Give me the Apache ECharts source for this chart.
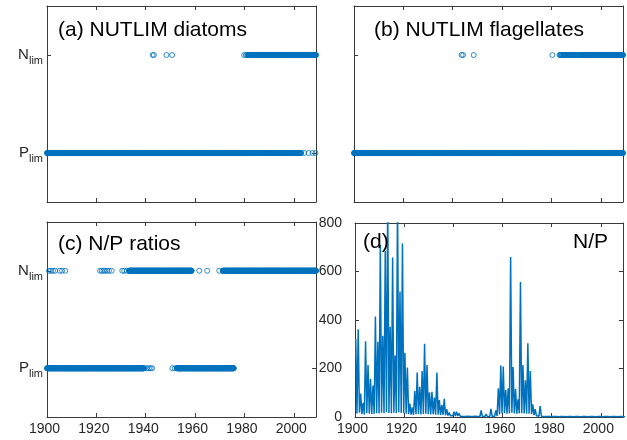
<!DOCTYPE html>
<html lang="en">
<head>
  <meta charset="UTF-8">
  <title>NUTLIM</title>
  <script src="https://cdn.jsdelivr.net/npm/echarts@6/dist/echarts.min.js"></script>
  <style>
    html, body { margin: 0; padding: 0; background: #fff; }
  </style>
</head>
<body>
<div id="main" style="width: 627px;height:440px;"></div>
<script type="text/javascript">
  // limitation state: 1 = N limited, 0 = P limited
  // runs are [from, to, points per year], pts are single observations (decimal year)
  var diatomsNRuns = [[1980.6, 1981.5, 2], [1981.5, 2009, 12]];
  var diatomsNPts = [1942.8, 1943.3, 1948.4, 1950.7, 1979.9];
  var diatomsPRuns = [[1900, 1980, 12], [1980, 2003, 6]];
  var diatomsPPts = [2004.2, 2006.0, 2007.6, 2008.8];

  var flagNRuns = [[1983.3, 1993, 4], [1993, 2009, 12]];
  var flagNPts = [1943.6, 1944.2, 1948.5, 1980.4];
  var flagPRuns = [[1900, 2009, 12]];
  var flagPPts = [];

  var ratioNRuns = [[1933.2, 1958.6, 12], [1971.2, 2009, 12]];
  var ratioNPts = [1900.8, 1901.6, 1902.4, 1903.3, 1905.2, 1906.1, 1907.4,
    1921.5, 1922.2, 1922.9, 1923.6, 1924.3, 1925.1, 1926.2,
    1930.5, 1931.3, 1932.3, 1961.7, 1964.9, 1969.8];
  var ratioPRuns = [[1900, 1939.2, 12], [1952.6, 1975.7, 12]];
  var ratioPPts = [1939.6, 1940.5, 1941.3, 1942.0, 1942.6, 1950.8, 1951.8];

  // N/P ratio, yearly peak and yearly low, 1900..2009
  var npFirstYear = 1900;
  var npPeak = [
    322, 362, 97, 58, 312, 214, 158, 130, 414, 310,
    710, 335, 685, 900, 372, 658, 254, 900, 517, 715,
    265, 204, 55, 40, 107, 183, 125, 190, 302, 214,
    102, 104, 80, 183, 70, 50, 75, 32, 18, 10,
    22, 22, 15, 8, 6, 7, 9, 6, 8, 5,
    7, 27, 8, 12, 6, 34, 10, 27, 118, 212,
    208, 111, 118, 660, 206, 115, 73, 557, 214, 151,
    304, 190, 52, 32, 12, 45, 8, 6, 10, 5,
    6, 8, 5, 5, 4, 6, 5, 4, 5, 6,
    4, 5, 4, 6, 5, 4, 5, 4, 6, 5,
    4, 5, 4, 5, 6, 4, 5, 4, 5, 4
  ];
  var npLow = [
    14, 18, 12, 10, 16, 14, 12, 13, 16, 15,
    18, 16, 20, 17, 15, 18, 16, 20, 17, 16,
    14, 12, 10, 9, 11, 12, 10, 12, 13, 11,
    10, 11, 9, 10, 8, 9, 7, 6, 5, 5,
    4, 4, 3, 2, 2, 3, 2, 2, 3, 2,
    2, 3, 2, 3, 2, 3, 3, 4, 10, 14,
    16, 14, 15, 18, 15, 14, 15, 16, 15, 14,
    13, 12, 8, 5, 3, 3, 2, 2, 2, 2,
    2, 2, 1, 2, 2, 1, 2, 2, 1, 2,
    2, 1, 2, 2, 1, 2, 2, 1, 2, 2,
    1, 2, 2, 1, 2, 2, 1, 2, 2, 1
  ];

  var xTicks = [1900, 1920, 1940, 1960, 1980, 2000];
  var npTicks = [0, 200, 400, 600, 800];

  var blue = '#0072BD';
  var ink = '#262626';
  var boxCol = '#3a3a3a';
  var font = 'Liberation Sans';

  function limPoints(runs, pts, level) {
    var out = [];
    runs.forEach(function (r) {
      var n = Math.round((r[1] - r[0]) * r[2]);
      for (var k = 0; k <= n; k++) out.push([r[0] + k / r[2], level]);
    });
    pts.forEach(function (t) { out.push([t, level]); });
    return out;
  }

  var npData = [];
  for (var i = 0; i < npPeak.length; i++) {
    npData.push([npFirstYear + i + 0.3, npPeak[i]]);
    npData.push([npFirstYear + i + 0.8, npLow[i]]);
  }

  var grids = [
    {left: 47, top: 6, width: 269, height: 196},
    {left: 354, top: 6, width: 269, height: 196},
    {left: 47, top: 222, width: 269, height: 195},
    {left: 355, top: 223, width: 268, height: 194}
  ];

  function plain(v) { return String(v); }

  var xAxes = [], yAxes = [];
  grids.forEach(function (g, gi) {
    ['bottom', 'top'].forEach(function (pos) {
      xAxes.push({
        gridIndex: gi, type: 'value', position: pos,
        min: 1900, max: 2009, interval: 20,
        axisLine: {onZero: false, lineStyle: {color: boxCol, width: 1}},
        axisTick: {inside: true, length: 4, customValues: xTicks, lineStyle: {color: boxCol}},
        axisLabel: {
          show: pos === 'bottom' && gi >= 2, customValues: xTicks, formatter: plain,
          color: ink, fontFamily: font, fontSize: 14, margin: 5, padding: [0, 5, 0, 0]
        },
        splitLine: {show: false}
      });
    });
    ['left', 'right'].forEach(function (pos) {
      if (gi === 3) {
        yAxes.push({
          gridIndex: gi, type: 'value', position: pos,
          min: 0, max: 800, interval: 200,
          axisLine: {show: true, onZero: false, lineStyle: {color: boxCol, width: 1}},
          axisTick: {show: true, inside: true, length: 4, customValues: npTicks, lineStyle: {color: boxCol}},
          axisLabel: {show: pos === 'left', customValues: npTicks, formatter: plain,
            color: ink, fontFamily: font, fontSize: 14, margin: 13},
          splitLine: {show: false}
        });
      } else {
        yAxes.push({
          gridIndex: gi, type: 'value', position: pos,
          min: -0.5, max: 1.5,
          axisLine: {show: true, onZero: false, lineStyle: {color: boxCol, width: 1}},
          axisTick: {show: true, inside: true, length: 4, customValues: [0, 1], lineStyle: {color: boxCol}},
          axisLabel: {
            show: pos === 'left' && gi !== 1, customValues: [0, 1], margin: 4,
            formatter: function (v) { return v === 1 ? '{m|N}{s|lim}' : '{m|P}{s|lim}'; },
            rich: {
              m: {fontSize: 15, color: ink, fontFamily: font},
              s: {fontSize: 11, color: ink, fontFamily: font, padding: [12, 0, 0, 0]}
            }
          },
          splitLine: {show: false}
        });
      }
    });
  });

  function scatter(gi, data) {
    return {
      type: 'scatter', xAxisIndex: gi * 2, yAxisIndex: gi * 2,
      data: data, symbol: 'circle', symbolSize: 5, silent: true,
      itemStyle: {color: 'rgba(255,255,255,0)', borderColor: blue, borderWidth: 1}
    };
  }

  var series = [
    scatter(0, limPoints(diatomsNRuns, diatomsNPts, 1)),
    scatter(0, limPoints(diatomsPRuns, diatomsPPts, 0)),
    scatter(1, limPoints(flagNRuns, flagNPts, 1)),
    scatter(1, limPoints(flagPRuns, flagPPts, 0)),
    scatter(2, limPoints(ratioNRuns, ratioNPts, 1)),
    scatter(2, limPoints(ratioPRuns, ratioPPts, 0)),
    {
      type: 'line', xAxisIndex: 6, yAxisIndex: 6, data: npData,
      showSymbol: false, silent: true, clip: true,
      lineStyle: {color: blue, width: 1.5}
    }
  ];

  function label(x, y, text, align) {
    return {
      type: 'text', x: x, y: y, z: 100, silent: true,
      style: {text: text, fill: '#000', font: '21px "Liberation Sans"',
        textAlign: align || 'left', textVerticalAlign: 'middle'}
    };
  }

  var myChart = echarts.init(document.getElementById('main'));
  myChart.setOption({
    animation: false,
    grid: grids,
    xAxis: xAxes,
    yAxis: yAxes,
    series: series,
    graphic: [
      label(58, 30, '(a) NUTLIM diatoms'),
      label(374, 30, '(b) NUTLIM flagellates'),
      label(58, 244, '(c) N/P ratios'),
      label(363, 242, '(d)'),
      label(608, 242, 'N/P', 'right')
    ]
  });
</script>
</body>
</html>
